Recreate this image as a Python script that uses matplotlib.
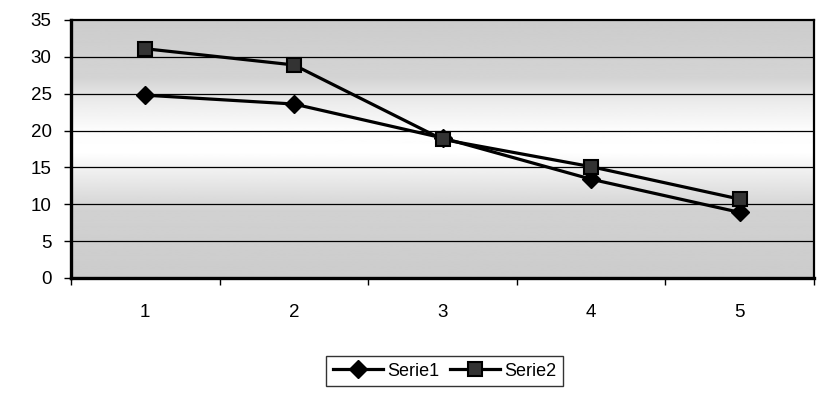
import numpy as np
import matplotlib.pyplot as plt
from matplotlib.patches import Rectangle

categories = [1, 2, 3, 4, 5]
serie1 = [24.8, 23.6, 19.0, 13.4, 8.9]
serie2 = [31.1, 28.9, 18.8, 15.1, 10.7]
y_ticks = [0, 5, 10, 15, 20, 25, 30, 35]


def main():
    plt.rcParams['font.family'] = ['Liberation Sans', 'DejaVu Sans']
    plt.rcParams['hatch.color'] = '#888888'
    plt.rcParams['hatch.linewidth'] = 0.6
    fig = plt.figure(figsize=(8.38, 4.03), dpi=100)
    ax = fig.add_axes([0.0847, 0.3102, 0.8867, 0.6402])

    # banded gradient background (darker at top/bottom, white around 17)
    yy = np.linspace(0, 35, 351)
    shade = np.interp(yy, [0, 9, 14, 17, 20, 24, 27, 35],
                      [0.80, 0.82, 0.93, 1.0, 0.99, 0.92, 0.83, 0.80])
    ax.imshow(shade.reshape(-1, 1), cmap='gray', vmin=0, vmax=1, aspect='auto',
              origin='lower', extent=[0.5, 5.5, 0, 35], zorder=0)
    # dithered texture on the darker bands
    for lo, hi in [(0, 10), (25, 35)]:
        ax.add_patch(Rectangle((0.5, lo), 5, hi - lo, facecolor='none',
                               edgecolor='none', hatch='.....', zorder=0.5))

    for y in y_ticks[1:-1]:
        ax.axhline(y, color='black', linewidth=0.9, zorder=1)

    ax.plot(categories, serie1, color='black', linewidth=2.3, marker='D',
            markersize=9, markerfacecolor='black', label='Serie1', zorder=3)
    ax.plot(categories, serie2, color='black', linewidth=2.3, marker='s',
            markersize=9.5, markerfacecolor='#333333', markeredgecolor='black',
            markeredgewidth=1.5, label='Serie2', zorder=3)

    ax.set_xlim(0.5, 5.5)
    ax.set_ylim(0, 35)
    ax.set_yticks(y_ticks)
    ax.set_xticks(np.arange(0.5, 6.0, 1.0))
    ax.set_xticklabels([])
    ax.set_xticks(categories, minor=True)
    ax.set_xticklabels([str(c) for c in categories], minor=True)
    ax.tick_params(axis='x', which='major', direction='out', length=5, width=1)
    ax.tick_params(axis='x', which='minor', length=0, pad=19, labelsize=13.5)
    ax.tick_params(axis='y', direction='out', length=5, width=1, pad=9, labelsize=13.5)

    for side in ['left', 'bottom']:
        ax.spines[side].set_linewidth(2.4)
    for side in ['top', 'right']:
        ax.spines[side].set_linewidth(1.6)

    leg = fig.legend(loc='center', bbox_to_anchor=(0.5304, 0.079), ncol=2,
                     frameon=True, fancybox=False, edgecolor='black',
                     fontsize=13, handlelength=2.8, columnspacing=0.6,
                     handletextpad=0.2, borderpad=0.35)
    leg.get_frame().set_linewidth(1.0)

    fig.savefig('out.png', dpi=100)


if __name__ == "__main__":
    main()
